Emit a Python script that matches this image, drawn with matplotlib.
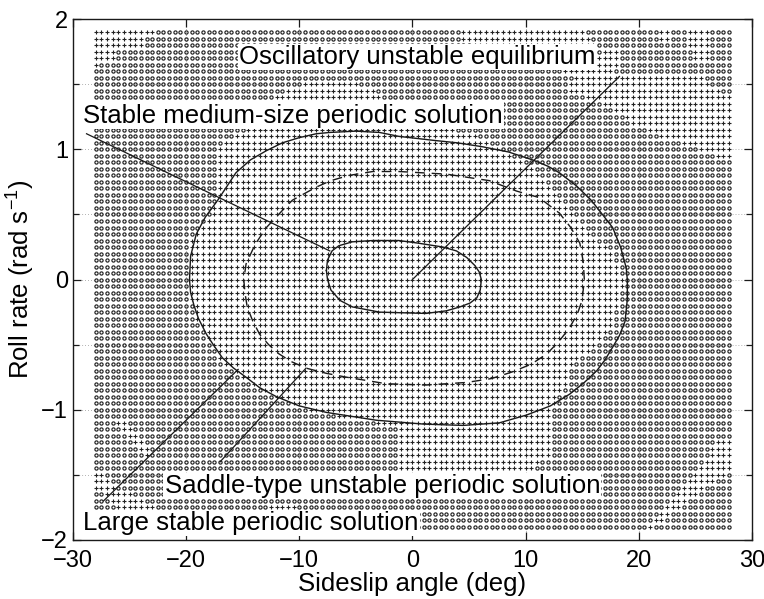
import numpy as np
import matplotlib
matplotlib.use("Agg")
import matplotlib.pyplot as plt
from matplotlib.path import Path

plt.rcParams['font.family'] = ['Liberation Sans', 'DejaVu Sans']
plt.rcParams['mathtext.default'] = 'regular'

# grid of initial conditions: sideslip (deg) x roll rate (rad/s)
beta_grid = np.arange(-28.0, 28.01, 0.5)
p_grid = np.arange(-1.9, 1.901, 0.05)

# large stable periodic solution
large_beta = [-19.7, -19.6, -19.1, -18.3, -17.2, -15.6, -14.3, -12.9, -11.5, -10.0, -8.5,
              -7.3, -5.0, -2.9, -1.2, 1.8, 4.0, 6.2, 8.5, 10.6, 12.0, 13.0, 14.5, 15.8,
              16.8, 17.7, 18.4, 18.9, 19.0, 19.0, 18.8, 18.3, 17.7, 17.0, 16.3, 15.2,
              13.9, 12.2, 10.1, 7.7, 4.5, 1.0, -3.2, -7.6, -10.0, -12.0, -13.5, -14.7,
              -15.8, -16.8, -17.6, -18.2, -18.9, -19.3, -19.6, -19.7]
large_p = [0.0, 0.18, 0.35, 0.48, 0.61, 0.82, 0.92, 0.99, 1.05, 1.09, 1.12,
           1.13, 1.14, 1.13, 1.10, 1.07, 1.05, 1.02, 0.98, 0.92, 0.87, 0.82, 0.72, 0.61,
           0.50, 0.40, 0.25, 0.09, 0.0, -0.15, -0.32, -0.43, -0.52, -0.62, -0.70, -0.79,
           -0.88, -0.97, -1.04, -1.10, -1.12, -1.11, -1.08, -1.02, -0.97, -0.90, -0.83, -0.75,
           -0.68, -0.60, -0.50, -0.42, -0.30, -0.20, -0.10, 0.0]

# saddle-type unstable periodic solution
saddle_beta = [-14.9, -14.8, -14.6, -14.1, -13.5, -12.7, -11.8, -10.7, -9.4, -7.6, -5.8,
               -2.3, 1.2, 4.8, 7.0, 8.8, 10.5, 11.9, 13.0, 13.9, 14.6, 15.0, 15.2, 15.1,
               14.8, 14.0, 13.0, 11.2, 9.2, 6.8, 3.0, -1.2, -3.5, -5.6, -7.2, -8.5,
               -10.6, -11.5, -12.9, -13.9, -14.7, -14.9]
saddle_p = [0.0, -0.10, -0.21, -0.32, -0.42, -0.50, -0.57, -0.63, -0.68, -0.72, -0.75,
            -0.80, -0.81, -0.79, -0.76, -0.71, -0.65, -0.57, -0.47, -0.37, -0.26, -0.16, 0.0, 0.14,
            0.28, 0.40, 0.51, 0.63, 0.68, 0.76, 0.81, 0.83, 0.83, 0.80, 0.76, 0.71,
            0.61, 0.53, 0.40, 0.27, 0.12, 0.0]

# stable medium-size periodic solution
medium_beta = [-7.6, -7.5, -7.2, -6.4, -5.3, -2.9, 1.2, 3.0, 4.2, 5.1, 5.7, 6.0, 6.1, 5.9,
               5.5, 4.8, 3.9, 2.7, 0.5, -1.2, -3.5, -5.3, -6.5, -7.1, -7.5, -7.6]
medium_p = [0.07, 0.0, -0.08, -0.16, -0.21, -0.25, -0.26, -0.24, -0.21, -0.18, -0.14, -0.08, 0.0, 0.06,
            0.11, 0.17, 0.22, 0.25, 0.28, 0.30, 0.30, 0.29, 0.26, 0.22, 0.15, 0.07]

# regions of the grid marked '+'
main_beta = [-14.5, -13.2, -11.5, -8.8, -6.0, -3.2, -2.7, -1.0, 2.0, 5.6, 8.0, 10.0, 11.5,
             12.8, 14.3, 15.8, 17.2, 18.3, 18.8, 18.3, 17.7, 16.8, 15.6, 14.2, 13.5, 12.6,
             12.0, 12.2, 12.0, 10.5, 10.2, -1.0, -1.5, -3.2, -7.6, -10.0, -12.0, -14.7,
             -16.8, -18.2, -19.3, -19.9, -19.5, -18.0, -17.5, -17.3, -17.3, -15.8]
main_p = [1.18, 1.33, 1.45, 1.52, 1.53, 1.47, 1.36, 1.22, 1.18, 1.12, 1.0, 0.9, 0.78,
          0.64, 0.47, 0.35, 0.24, 0.10, -0.05, -0.13, -0.35, -0.45, -0.55, -0.65, -0.8, -0.95,
          -1.05, -1.2, -1.35, -1.45, -1.52, -1.52, -1.12, -1.1, -1.04, -0.98, -0.91, -0.77,
          -0.63, -0.45, -0.25, 0.0, 0.35, 0.5, 0.6, 0.8, 1.0, 1.1]

topright_beta = [4.4, 15.0, 16.5, 18.0, 25.5, 26.5, 28.3, 28.3, 26.8, 25.0, 22.0, 19.5,
                 17.5, 15.0, 13.0, 14.5, 12.0, 4.4]
topright_p = [1.93, 1.93, 1.75, 1.60, 1.60, 1.48, 1.42, 0.93, 0.94, 1.02, 1.10, 1.20,
              1.32, 1.42, 1.47, 1.55, 1.65, 1.82]

patch1_beta = [21.8, 22.7, 22.7, 21.8]
patch1_p = [1.93, 1.93, 1.83, 1.83]
patch2_beta = [24.3, 26.2, 26.2, 25.2, 24.3]
patch2_p = [1.93, 1.93, 1.67, 1.67, 1.78]
patch3_beta = [16.8, 18.3, 18.3, 16.8]
patch3_p = [1.78, 1.78, 1.63, 1.63]

corner_beta = [-28.3, -22.8, -22.8, -23.8, -23.8, -26.3, -26.3, -27.8, -27.8, -28.3]
corner_p = [1.93, 1.93, 1.875, 1.875, 1.775, 1.775, 1.675, 1.675, 1.625, 1.625]

lowright_beta = [28.3, 28.3, 27.2, 25.5, 24.0, 22.0, 21.0, 20.3, 21.5, 23.0, 24.5, 26.0, 26.8]
lowright_p = [-1.22, -1.47, -1.53, -1.62, -1.72, -1.85, -1.93, -1.93, -1.80, -1.65, -1.52, -1.38, -1.25]

lowleft1_beta = [-26.8, -25.8, -24.0, -22.8, -23.5, -25.0, -26.2]
lowleft1_p = [-1.06, -1.06, -1.20, -1.33, -1.36, -1.22, -1.12]

lowleft2_beta = [-28.3, -27.5, -26.3, -24.0, -22.6, -25.8, -27.0, -28.3]
lowleft2_p = [-1.45, -1.45, -1.60, -1.68, -1.77, -1.78, -1.66, -1.60]

lowmid_beta = [-12.7, -10.3, -10.3, -12.7]
lowmid_p = [-1.73, -1.73, -1.78, -1.78]

regions = [(main_beta, main_p), (topright_beta, topright_p), (patch1_beta, patch1_p),
           (patch2_beta, patch2_p), (patch3_beta, patch3_p), (corner_beta, corner_p),
           (lowright_beta, lowright_p), (lowleft1_beta, lowleft1_p),
           (lowleft2_beta, lowleft2_p), (lowmid_beta, lowmid_p)]

# pointer lines for the labels
eq_line = ([0.0, 18.3], [0.0, 1.56])
medium_line = ([-28.8, -7.3], [1.12, 0.22])
saddle_line = ([-17.0, -9.4], [-1.40, -0.68])
large_line = ([-27.3, -15.4], [-1.70, -0.69])

B, P = np.meshgrid(beta_grid, p_grid)
pts = np.column_stack([B.ravel(), P.ravel()])
plus = np.zeros(len(pts), dtype=bool)
for rb, rp in regions:
    plus |= Path(np.column_stack([rb, rp])).contains_points(pts)

fig = plt.figure(figsize=(7.64, 5.99), dpi=100)
ax = fig.add_axes([0.0955, 0.0985, 0.8885, 0.8695])

# dotted grid
for xv in [-20, -10, 0, 10, 20]:
    ax.axvline(xv, color='0.6', lw=0.6, ls=(0, (1, 2.5)), zorder=1)
for yv in [-1.5, -1.0, -0.5, 0.0, 0.5, 1.0, 1.5]:
    ax.axhline(yv, color='0.6', lw=0.6, ls=(0, (1, 2.5)), zorder=1)

ink = '#1a1a1a'
dots = '#222222'
ax.plot(pts[~plus, 0], pts[~plus, 1], 'o', ms=2.3, mfc='none', mec=dots, mew=0.85,
        ls='none', zorder=2)
ax.plot(pts[plus, 0], pts[plus, 1], '+', ms=3.1, mec=dots, mew=0.8, ls='none', zorder=2)

ax.plot(large_beta, large_p, color=ink, lw=1.0, zorder=3)
ax.plot(saddle_beta, saddle_p, color=ink, lw=1.0, ls=(0, (7, 5)), zorder=3)
ax.plot(medium_beta, medium_p, color=ink, lw=1.0, zorder=3)
for lx, ly in [eq_line, medium_line, saddle_line, large_line]:
    ax.plot(lx, ly, color=ink, lw=0.9, zorder=3)

box = dict(facecolor='white', edgecolor='none', pad=1.0)
fs = 18.5
ax.text(-15.3, 1.71, 'Oscillatory unstable equilibrium', fontsize=fs, va='center',
        ha='left', bbox=box, zorder=5)
ax.text(-29.1, 1.26, 'Stable medium-size periodic solution', fontsize=fs, va='center',
        ha='left', bbox=box, zorder=5)
ax.text(-21.9, -1.585, 'Saddle-type unstable periodic solution', fontsize=fs, va='center',
        ha='left', bbox=box, zorder=5)
ax.text(-29.1, -1.87, 'Large stable periodic solution', fontsize=fs, va='center',
        ha='left', bbox=box, zorder=5)

ax.set_xlim(-30, 30)
ax.set_ylim(-2, 2)
ax.set_xticks([-30, -20, -10, 0, 10, 20, 30])
ax.set_yticks([-2, -1, 0, 1, 2])
ax.set_yticks(np.arange(-1.5, 2, 1.0), minor=True)
ax.tick_params(which='both', direction='in', top=True, right=True, labelsize=17,
               width=0.9, color=ink)
ax.tick_params(which='major', length=6)
ax.tick_params(which='minor', length=4)
ax.tick_params(axis='x', pad=7)
for s in ax.spines.values():
    s.set_linewidth(1.0)
    s.set_color(ink)

ax.set_xlabel('Sideslip angle (deg)', fontsize=fs, labelpad=0)
ax.set_ylabel('Roll rate (rad s$^{-1}$)', fontsize=fs, labelpad=3)

fig.savefig('out.png', dpi=100)
